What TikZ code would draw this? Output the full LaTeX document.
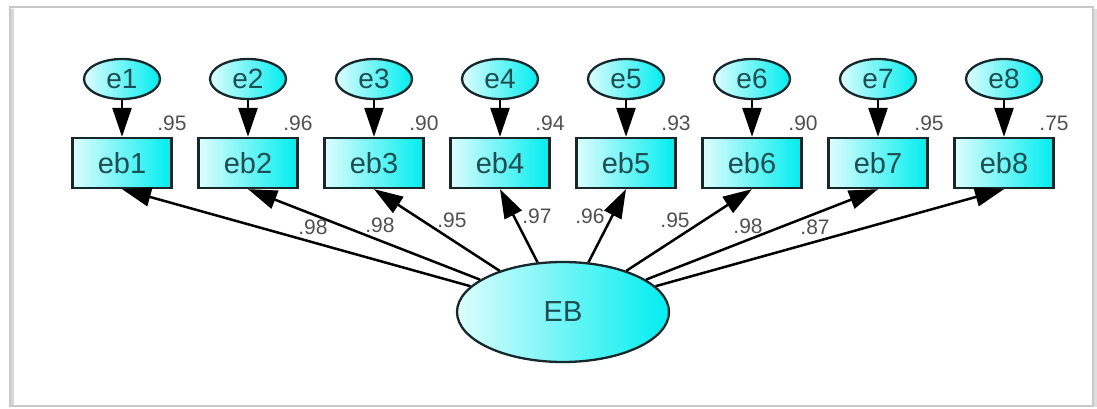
\documentclass[tikz,border=0pt]{standalone}
\usepackage{fontspec}
\setmainfont{Liberation Sans}
\usetikzlibrary{arrows.meta,shapes.geometric}
\definecolor{txt}{RGB}{28,78,82}
\definecolor{bord}{RGB}{22,40,42}
\definecolor{lite}{RGB}{222,253,253}
\definecolor{cy}{RGB}{0,238,240}
\definecolor{coef}{RGB}{80,80,80}
\definecolor{frm}{RGB}{200,200,200}
\begin{document}
\begin{tikzpicture}[x=1pt,y=-1pt,
  obs/.style={draw=bord, line width=2.3pt, rectangle, minimum width=99pt, minimum height=50pt,
    left color=lite, right color=cy, text=txt, font=\fontsize{29}{30}\selectfont, inner sep=0pt},
  err/.style={draw=bord, line width=2.3pt, ellipse, minimum width=76pt, minimum height=40pt,
    left color=lite, right color=cy, text=txt, font=\fontsize{28}{30}\selectfont, inner sep=0pt},
  lat/.style={draw=bord, line width=2.3pt, ellipse, minimum width=212pt, minimum height=100pt,
    left color=lite, right color=cy, text=txt, font=\fontsize{29}{30}\selectfont, inner sep=0pt},
  conn/.style={line width=2.5pt, black, -{Triangle[length=29pt,width=19pt]}},
  coefl/.style={text=coef, font=\fontsize{21}{24}\selectfont, inner sep=0pt}]
\useasboundingbox (0,0) rectangle (1097,409);
% frame
\draw[frm!70, line width=4pt] (12,9) -- (12,407);
\draw[frm!60, line width=4pt] (1095,9) -- (1095,407);
\draw[frm, line width=1.2pt] (10,7) rectangle (1093,406);
% nodes
\foreach \i in {1,...,8}{
  \pgfmathsetmacro{\xx}{122+126*(\i-1)}
  \node[err] (e\i) at (\xx,79) {e\i};
  \node[obs] (eb\i) at (\xx,163) {eb\i};
}
\node[lat] (EB) at (563,312) {EB};
% connectors
\foreach \i in {1,...,8}{
  \draw[conn] (e\i) -- (eb\i);
  \draw[conn] (EB) -- (eb\i.south);
}
% squared multiple correlations
\node[coefl] (r1) at (172,123) {.95};
\node[coefl] (r2) at (298,123) {.96};
\node[coefl] (r3) at (424,123) {.90};
\node[coefl] (r4) at (550,123) {.94};
\node[coefl] (r5) at (676,123) {.93};
\node[coefl] (r6) at (803,123) {.90};
\node[coefl] (r7) at (929,123) {.95};
\node[coefl] (r8) at (1054,123) {.75};
% loadings
\node[coefl] (l1) at (313,227) {.98};
\node[coefl] (l2) at (380,225) {.98};
\node[coefl] (l3) at (452,220) {.95};
\node[coefl] (l4) at (537,216) {.97};
\node[coefl] (l5) at (590,216) {.96};
\node[coefl] (l6) at (675,220) {.95};
\node[coefl] (l7) at (748,226) {.98};
\node[coefl] (l8) at (815,227) {.87};
\end{tikzpicture}
\end{document}
